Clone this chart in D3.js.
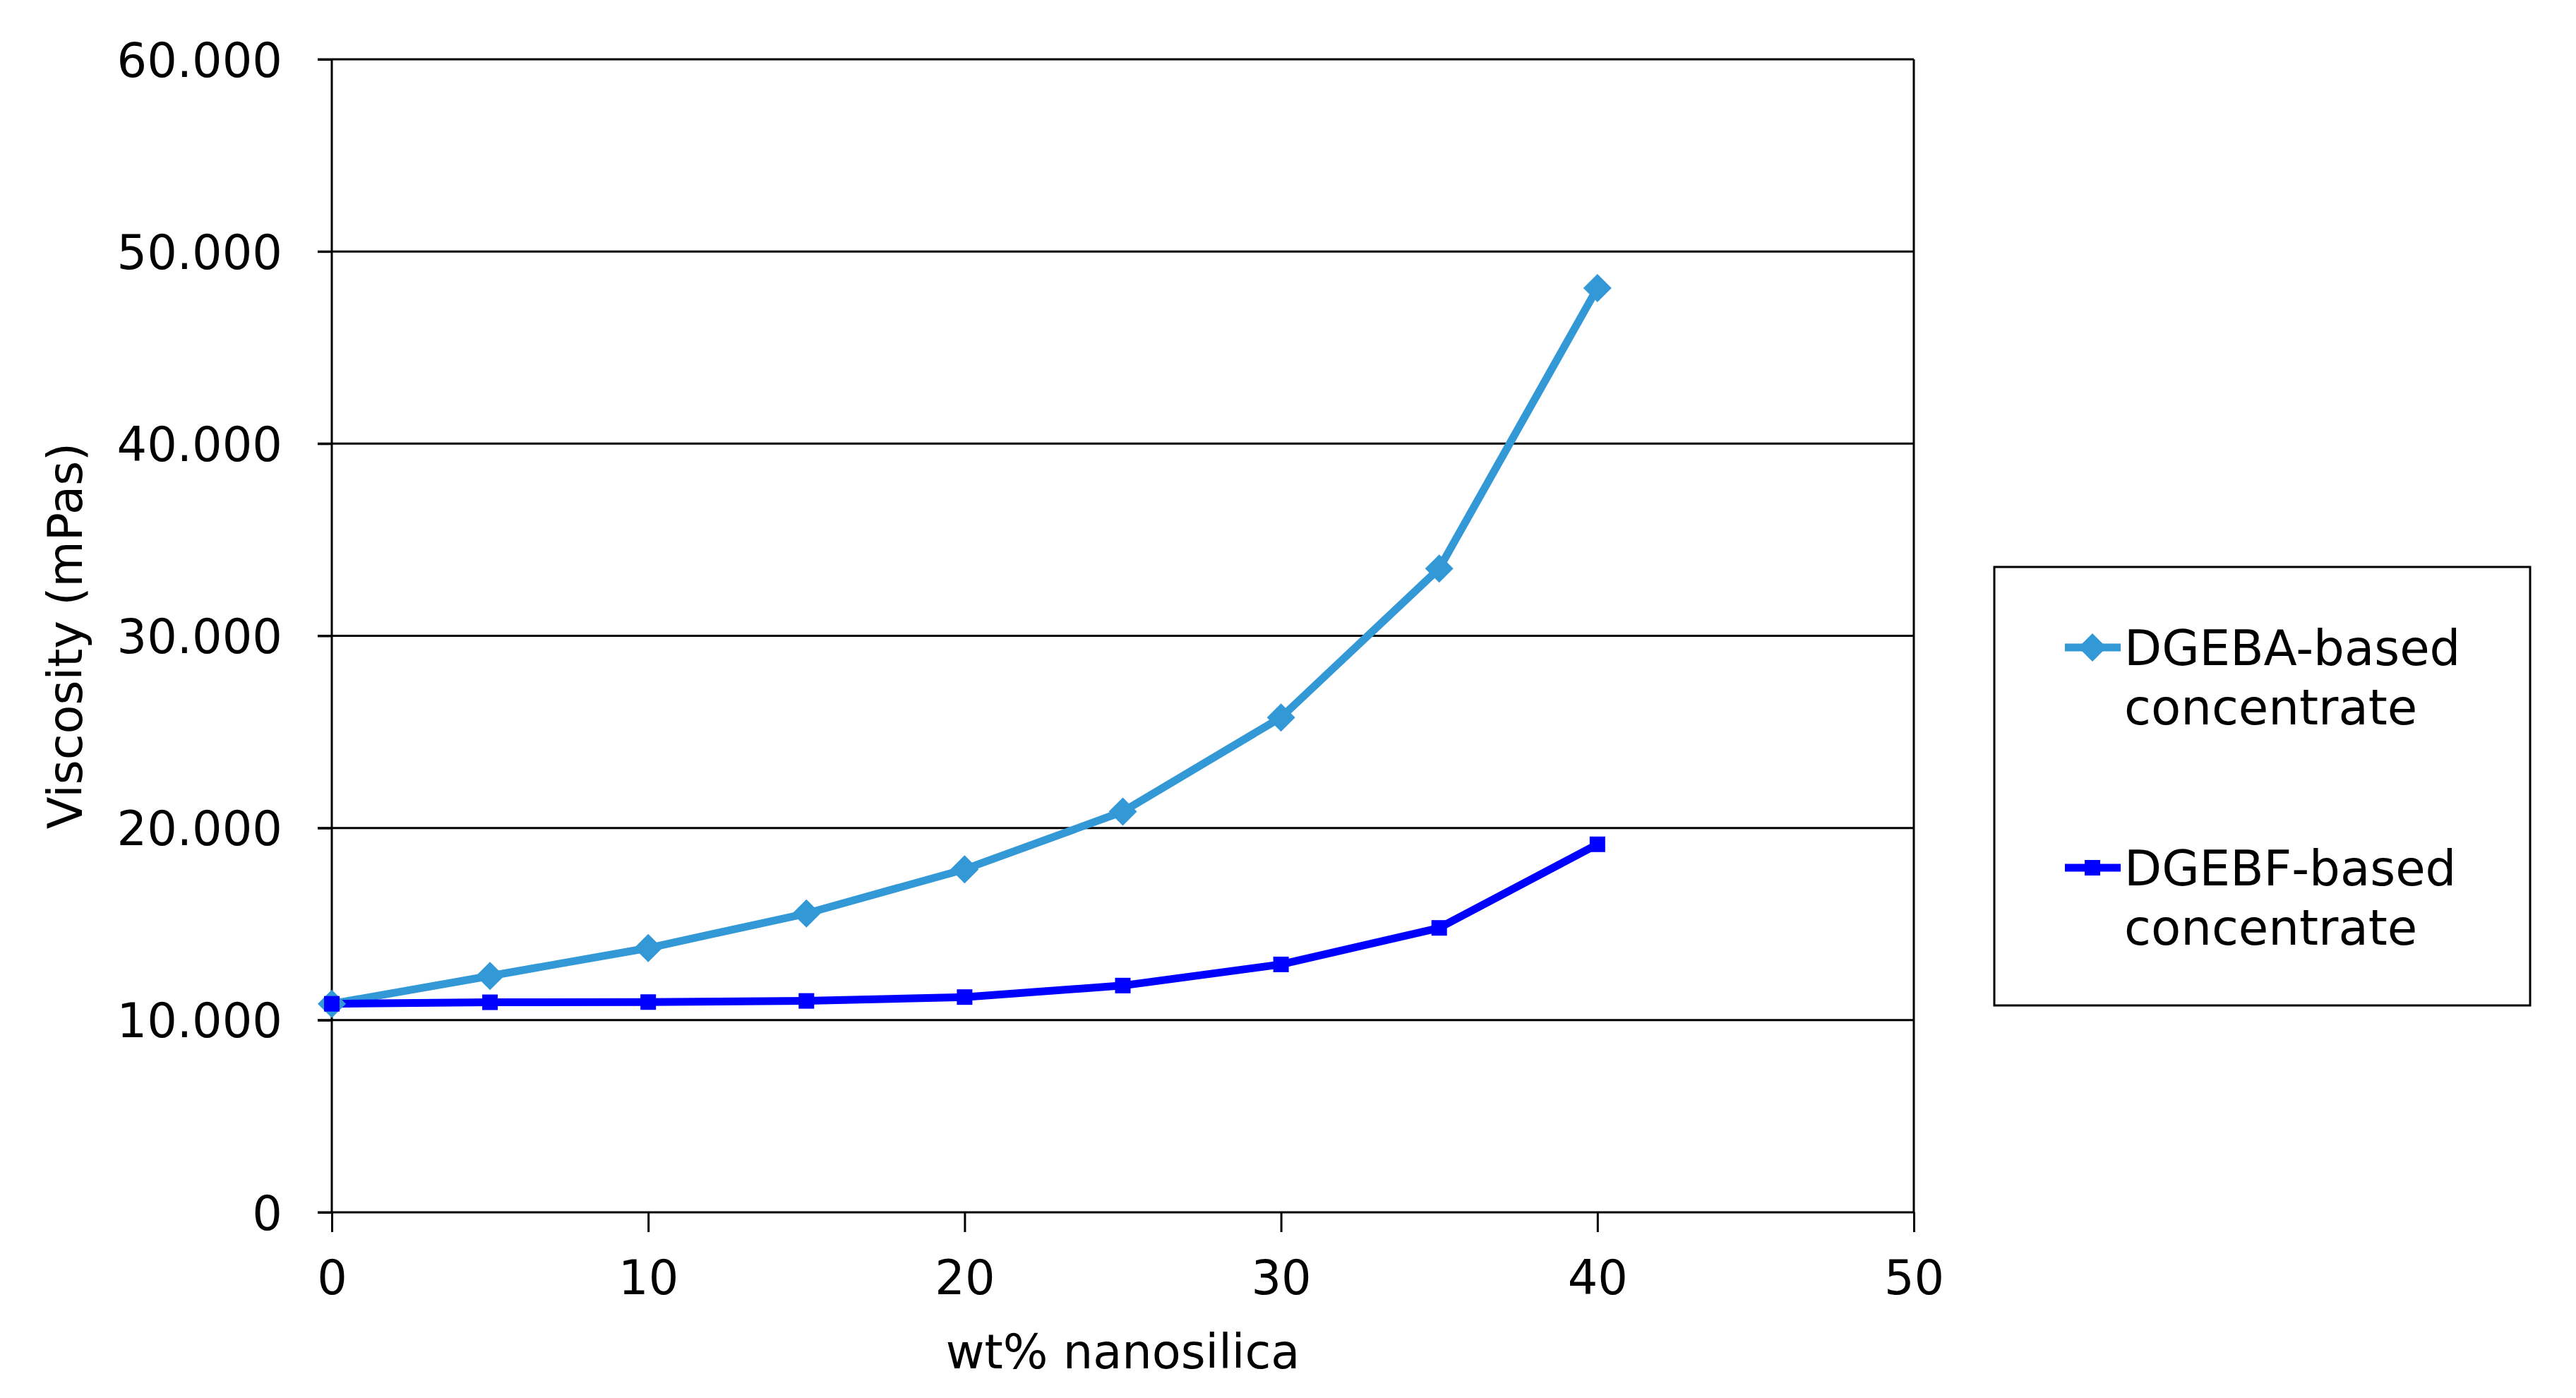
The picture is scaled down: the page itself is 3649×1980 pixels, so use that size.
<!DOCTYPE html>
<html>
<head>
<meta charset="utf-8">
<script src="https://cdn.jsdelivr.net/npm/d3@7"></script>
<style>
  html, body { margin: 0; padding: 0; background: #fff; }
  svg { display: block; }
  text { font-family: "DejaVu Sans", Verdana, sans-serif; fill: #000; }
</style>
</head>
<body>
<svg id="chart" width="3649" height="1980"></svg>
<script>
// ---- data ----
const xValues = [0, 5, 10, 15, 20, 25, 30, 35, 40];
const dgebaValues = [10850, 12300, 13750, 15550, 17850, 20850, 25750, 33500, 48100];
const dgebfValues = [10850, 10930, 10940, 11000, 11200, 11800, 12900, 14800, 19150];
const seriesNames = [["DGEBA-based", "concentrate"], ["DGEBF-based", "concentrate"]];
const yTicks = [0, 10000, 20000, 30000, 40000, 50000, 60000];
const xTicks = [0, 10, 20, 30, 40, 50];
const xTitle = "wt% nanosilica";
const yTitle = "Viscosity (mPas)";

// ---- layout ----
const svg = d3.select("#chart");
const L = 470, R = 2711, T = 84, B = 1717;
const fs = 67;
const x = d3.scaleLinear().domain([0, 50]).range([L, R]);
const y = d3.scaleLinear().domain([0, 60000]).range([B, T]);
const loc = d3.formatLocale({decimal: ",", thousands: ".", grouping: [3], currency: ["", ""]});
const fmt = loc.format(",d");

// gridlines
const grid = svg.append("g");
grid.selectAll("line").data(yTicks.filter(d => d > 0)).join("line")
  .attr("x1", L - 20).attr("x2", R)
  .attr("y1", d => y(d)).attr("y2", d => y(d))
  .attr("stroke", "#000").attr("stroke-width", 3);

// plot border (right side)
svg.append("line").attr("x1", R).attr("x2", R).attr("y1", T).attr("y2", B)
  .attr("stroke", "#000").attr("stroke-width", 3);

// y axis
const yAxis = svg.append("g").attr("transform", `translate(${L},0)`)
  .call(d3.axisLeft(y).tickValues(yTicks).tickFormat(fmt).tickSize(20).tickPadding(50));
yAxis.select(".domain").attr("stroke-width", 3).attr("d", `M0,${T}V${B}`);
yAxis.selectAll(".tick line").attr("stroke-width", 3);
yAxis.selectAll(".tick text").attr("font-size", fs).attr("font-family", "DejaVu Sans")
  .attr("dy", "0.36em");

// x axis
const xAxis = svg.append("g").attr("transform", `translate(0,${B})`)
  .call(d3.axisBottom(x).tickValues(xTicks).tickFormat(d3.format("d")).tickSize(28).tickPadding(40));
xAxis.select(".domain").attr("stroke-width", 3).attr("d", `M${L - 20},0H${R}`);
xAxis.selectAll(".tick line").attr("stroke-width", 3);
xAxis.selectAll(".tick text").attr("font-size", fs).attr("font-family", "DejaVu Sans");

// titles
svg.append("text").attr("x", (L + R) / 2).attr("y", 1938)
  .attr("text-anchor", "middle").attr("font-size", fs).text(xTitle);
svg.append("text").attr("transform", `translate(116,${(T + B) / 2}) rotate(-90)`)
  .attr("text-anchor", "middle").attr("font-size", fs).text(yTitle);

// series
const colors = ["#3399D6", "#0000FF"];
const seriesData = [dgebaValues, dgebfValues];
const line = d3.line().x((d, i) => x(xValues[i])).y(d => y(d));
seriesData.forEach((vals, s) => {
  svg.append("path").datum(vals).attr("d", line)
    .attr("fill", "none").attr("stroke", colors[s]).attr("stroke-width", 11)
    .attr("stroke-linejoin", "round");
});
// markers
const diamond = sz => `M0,${-sz}L${sz},0L0,${sz}L${-sz},0Z`;
svg.append("g").selectAll("path").data(dgebaValues).join("path")
  .attr("transform", (d, i) => `translate(${x(xValues[i])},${y(d)})`)
  .attr("d", diamond(20)).attr("fill", colors[0]);
svg.append("g").selectAll("rect").data(dgebfValues).join("rect")
  .attr("x", (d, i) => x(xValues[i]) - 11).attr("y", d => y(d) - 11)
  .attr("width", 22).attr("height", 22).attr("fill", colors[1]);

// legend
const lg = svg.append("g");
lg.append("rect").attr("x", 2825).attr("y", 803).attr("width", 759).attr("height", 621)
  .attr("fill", "#fff").attr("stroke", "#000").attr("stroke-width", 3);
const legendY = [917, 1229];
seriesNames.forEach((nm, s) => {
  const ly = legendY[s];
  lg.append("line").attr("x1", 2925).attr("x2", 3004).attr("y1", ly).attr("y2", ly)
    .attr("stroke", colors[s]).attr("stroke-width", 11);
  if (s === 0) {
    lg.append("path").attr("transform", `translate(2964,${ly})`).attr("d", diamond(20)).attr("fill", colors[0]);
  } else {
    lg.append("rect").attr("x", 2953).attr("y", ly - 11).attr("width", 22).attr("height", 22).attr("fill", colors[1]);
  }
  lg.append("text").attr("x", 3009).attr("y", ly + 25).attr("font-size", 69).text(nm[0]);
  lg.append("text").attr("x", 3009).attr("y", ly + 109).attr("font-size", 69).text(nm[1]);
});
</script>
</body>
</html>
